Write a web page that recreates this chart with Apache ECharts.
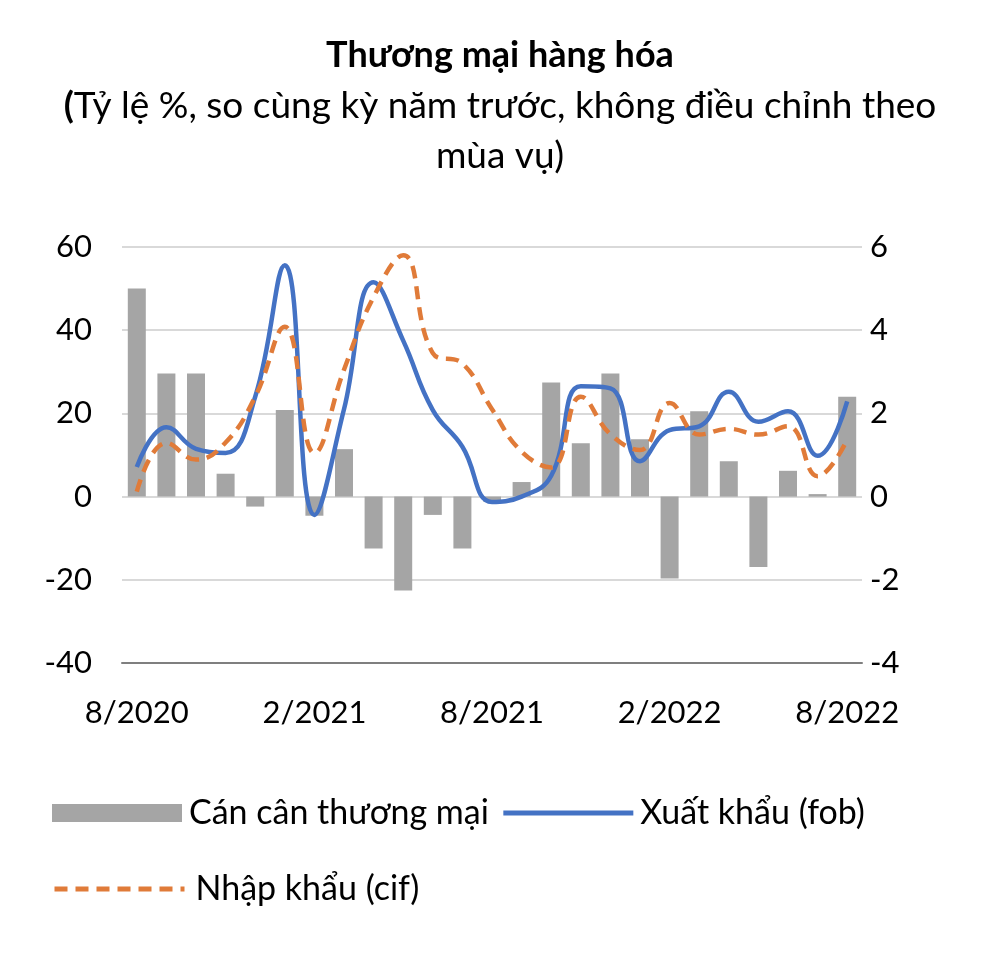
<!DOCTYPE html>
<html><head><meta charset="utf-8">
<script src="https://cdn.jsdelivr.net/npm/echarts@6/dist/echarts.min.js"></script>
<style>html,body{margin:0;padding:0;background:#fff}#c{width:1000px;height:961px}</style>
</head><body><div id="c"></div>
<script>
const categories = ['8/2020','9/2020','10/2020','11/2020','12/2020','1/2021','2/2021','3/2021','4/2021','5/2021','6/2021','7/2021','8/2021','9/2021','10/2021','11/2021','12/2021','1/2022','2/2022','3/2022','4/2022','5/2022','6/2022','7/2022','8/2022'];
const tradeBalance = [5.0,2.96,2.96,0.55,-0.24,2.08,-0.46,1.14,-1.25,-2.26,-0.44,-1.25,-0.12,0.35,2.74,1.28,2.96,1.38,-1.97,2.05,0.85,-1.69,0.62,0.06,2.4];
const exportsFob = [7.1,16.7,11.5,10.5,24,55.6,-4.4,21,51.5,37.5,20.8,12,-1.3,0,5,26.5,26,8.5,16,16.9,25.2,18,20.5,9.8,22.9];
const importsCif = [1.2,12.9,8.9,13,24,40.8,10.5,30.5,48,58,34.5,32,21,10.8,7,24,15,11.2,22.5,14.9,16.3,14.9,16.9,4.9,13.7];
const leftTicks = {min:-40,max:60,interval:20};
const rightTicks = {min:-4,max:6,interval:2};

const chart = echarts.init(document.getElementById('c'));
const font = 'Lato, "Open Sans", sans-serif';
chart.setOption({
  animation:false,
  textStyle:{fontFamily:font},
  title:{
    text:'Thương mại hàng hóa',
    subtext:'{b|(}Tỷ lệ %, so cùng kỳ năm trước, không điều chỉnh theo\nmùa vụ)',
    left:'center', top:32, itemGap:8,
    textStyle:{fontSize:36,fontWeight:'bold',color:'#000',fontFamily:font},
    subtextStyle:{fontSize:37,color:'#000',lineHeight:50,fontFamily:font,align:'center',
      rich:{b:{fontSize:37,fontWeight:'bold',color:'#000',fontFamily:font,lineHeight:50}}}
  },
  grid:{left:122,right:138,top:247,bottom:298},
  legend:[
    {data:[{name:'Cán cân thương mại',icon:'rect'},{name:'Xuất khẩu (fob)',itemStyle:{opacity:0}}],left:47,top:791,itemWidth:130,itemHeight:18,itemGap:12,
     lineStyle:{width:5},
     textStyle:{fontSize:34,color:'#000',fontFamily:font,padding:[0,0,0,2]}},
    {data:[{name:'Nhập khẩu (cif)',itemStyle:{opacity:0}}],left:47,top:867,itemWidth:130,itemHeight:18,itemGap:12,
     lineStyle:{width:5},
     textStyle:{fontSize:34,color:'#000',fontFamily:font,padding:[0,0,0,6]}}
  ],
  xAxis:{type:'category',data:categories,boundaryGap:true,
    axisLine:{onZero:false,lineStyle:{color:'#7f7f7f',width:2}},
    axisTick:{interval:5,length:10,lineStyle:{color:'#7f7f7f',width:2}},
    axisLabel:{interval:5,fontSize:31,color:'#000',margin:34,fontFamily:font}},
  yAxis:[
    {type:'value',min:leftTicks.min,max:leftTicks.max,interval:leftTicks.interval,
     axisLine:{show:false},axisTick:{show:false},
     splitLine:{lineStyle:{color:'#d9d9d9',width:2}},
     axisLabel:{fontSize:31,color:'#000',margin:30,fontFamily:font}},
    {type:'value',min:rightTicks.min,max:rightTicks.max,interval:rightTicks.interval,
     axisLine:{show:false},axisTick:{show:false},splitLine:{show:false},
     axisLabel:{fontSize:31,color:'#000',margin:8,fontFamily:font}}
  ],
  series:[
    {name:'Cán cân thương mại',type:'bar',yAxisIndex:1,data:tradeBalance,barWidth:18,
     itemStyle:{color:'#a5a5a5'}},
    {name:'Xuất khẩu (fob)',type:'line',yAxisIndex:0,data:exportsFob,smooth:0.45,symbol:'none',
     lineStyle:{color:'#4472c4',width:4.5},itemStyle:{color:'#4472c4'}},
    {name:'Nhập khẩu (cif)',type:'line',yAxisIndex:0,data:importsCif,smooth:0.45,symbol:'none',
     lineStyle:{color:'#e07b39',width:4.5,type:[13,8]},itemStyle:{color:'#e07b39'}}
  ]
});
</script></body></html>
